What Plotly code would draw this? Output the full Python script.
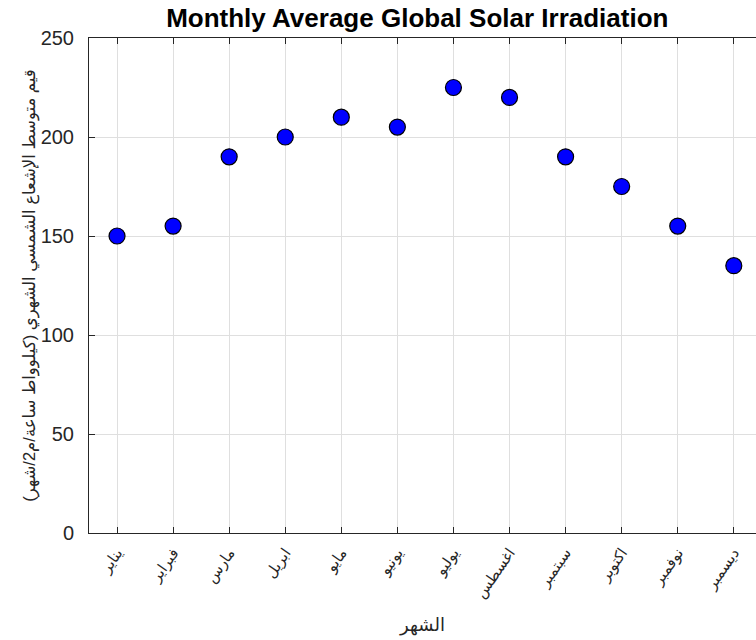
import plotly.graph_objects as go

months = ["يناير", "فبراير", "مارس", "ابريل", "مايو", "يونيو",
          "يوليو", "اغسطس", "سبتمبر", "اكتوبر", "نوفمبر", "ديسمبر"]
month_index = list(range(1, 13))
irradiation = [150, 155, 190, 200, 210, 205, 225, 220, 190, 175, 155, 135]

title_text = "Monthly Average Global Solar Irradiation"
x_title = "الشهر"
y_title = "قيم متوسط الإشعاع الشمسي الشهري (كيلوواط ساعة/م2/شهر)"

axis_color = "#262626"
grid_color = "#dfdfdf"
font_family = "Liberation Sans, Arial, DejaVu Sans, sans-serif"

fig = go.Figure(
    go.Scatter(
        x=month_index,
        y=irradiation,
        mode="markers",
        marker=dict(size=16, color="#0000ff", line=dict(color="#000000", width=1.2)),
        showlegend=False,
    )
)

fig.update_layout(
    width=756,
    height=640,
    margin=dict(l=89, r=0, t=38, b=107, autoexpand=False),
    paper_bgcolor="white",
    plot_bgcolor="white",
    font=dict(family=font_family, color=axis_color),
    title=dict(
        text="<b>" + title_text + "</b>",
        x=0.552, xanchor="center", xref="container",
        y=1 - 18 / 640, yanchor="middle", yref="container",
        font=dict(size=26, color="#000000", family=font_family),
    ),
)

fig.update_xaxes(
    range=[0.5, 12.396],
    tickmode="array",
    tickvals=month_index,
    ticktext=months,
    tickangle=-55,
    ticks="inside",
    ticklen=6,
    tickcolor=axis_color,
    showline=True,
    linecolor=axis_color,
    linewidth=1,
    mirror="ticks",
    showgrid=True,
    gridcolor=grid_color,
    gridwidth=1,
    zeroline=False,
    automargin=False,
    ticklabelstandoff=4,
    tickfont=dict(size=15, color=axis_color),
    title=dict(text=x_title, font=dict(size=18, color=axis_color), standoff=17),
)

fig.update_yaxes(
    range=[0, 250],
    tickmode="array",
    tickvals=[0, 50, 100, 150, 200, 250],
    ticks="inside",
    ticklen=6,
    tickcolor=axis_color,
    showline=True,
    linecolor=axis_color,
    linewidth=1,
    mirror=False,
    showgrid=True,
    gridcolor=grid_color,
    gridwidth=1,
    zeroline=False,
    automargin=False,
    ticklabelstandoff=10,
    tickfont=dict(size=20, color=axis_color),
    title=dict(text=y_title, font=dict(size=16.5, color=axis_color), standoff=0),
)

fig.write_html(
    "out.html",
    config={"displayModeBar": False},
    post_script="document.body.style.margin='0';document.body.style.overflow='hidden';",
)
